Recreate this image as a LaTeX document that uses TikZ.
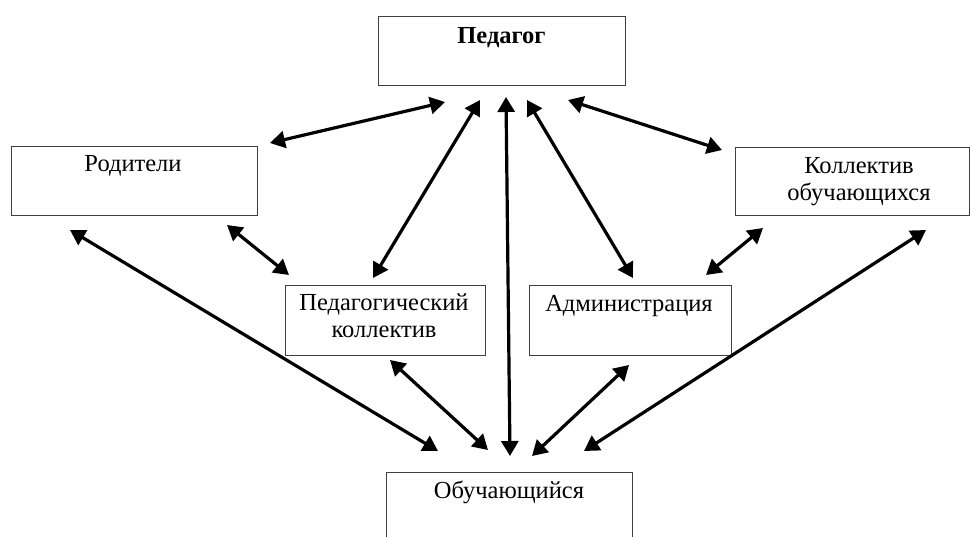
\documentclass[tikz,border=0pt]{standalone}
\usepackage{fontspec}
\setmainfont{Liberation Serif}
\usetikzlibrary{arrows.meta}
\tikzset{
  box/.style={draw=black!75, line width=0.9pt, rectangle, inner sep=0pt},
  txt/.style={font=\fontsize{24.5}{26.5}\selectfont, align=center, inner sep=0pt, anchor=base},
  link/.style={line width=3.2pt, {Triangle[length=15pt,width=17pt]}-{Triangle[length=15pt,width=17pt]}}
}
\begin{document}
\begin{tikzpicture}[x=1pt,y=-1pt]
\useasboundingbox (0,0) rectangle (970,536);
% boxes
\node[box, minimum width=247pt, minimum height=69pt] (ped) at (501.5,50.5) {};
\node[box, minimum width=246pt, minimum height=69pt] (rod) at (134,180.5) {};
\node[box, minimum width=234pt, minimum height=68pt] (koll) at (852,181) {};
\node[box, minimum width=200pt, minimum height=70pt] (pedkol) at (385,320) {};
\node[box, minimum width=202pt, minimum height=70pt] (adm) at (630,320) {};
\node[box, minimum width=246pt, minimum height=80pt] (obu) at (509,512) {};
% texts
\node[txt] (tped) at (501.5,43) {\textbf{Педагог}};
\node[txt] (trod) at (133,171) {Родители};
\node[txt] (tkoll) at (859,200) {Коллектив\\обучающихся};
\node[txt] (tpedkol) at (384,337) {Педагогический\\коллектив};
\node[txt] (tadm) at (629,311) {Администрация};
\node[txt] (tobu) at (509,498) {Обучающийся};
% arrow ends
\coordinate (a1s) at (270,143); \coordinate (a1e) at (445,102);
\coordinate (a2s) at (373,278); \coordinate (a2e) at (480,100);
\coordinate (a3s) at (510,456); \coordinate (a3e) at (506,97);
\coordinate (a4s) at (633,278); \coordinate (a4e) at (527,100);
\coordinate (a5s) at (568,100); \coordinate (a5e) at (722,150);
\coordinate (a6s) at (227,225); \coordinate (a6e) at (289,275);
\coordinate (a7s) at (763,228); \coordinate (a7e) at (706,275);
\coordinate (a8s) at (70,230);  \coordinate (a8e) at (438,451);
\coordinate (a9s) at (390,360); \coordinate (a9e) at (488,450);
\coordinate (a10s) at (629,365); \coordinate (a10e) at (532,456);
\coordinate (a11s) at (926,230); \coordinate (a11e) at (584,451);
\draw[link] (a1s) -- (a1e);
\draw[link] (a2s) -- (a2e);
\draw[link] (a3s) -- (a3e);
\draw[link] (a4s) -- (a4e);
\draw[link] (a5s) -- (a5e);
\draw[link] (a6s) -- (a6e);
\draw[link] (a7s) -- (a7e);
\draw[link] (a8s) -- (a8e);
\draw[link] (a9s) -- (a9e);
\draw[link] (a10s) -- (a10e);
\draw[link] (a11s) -- (a11e);
\end{tikzpicture}
\end{document}
